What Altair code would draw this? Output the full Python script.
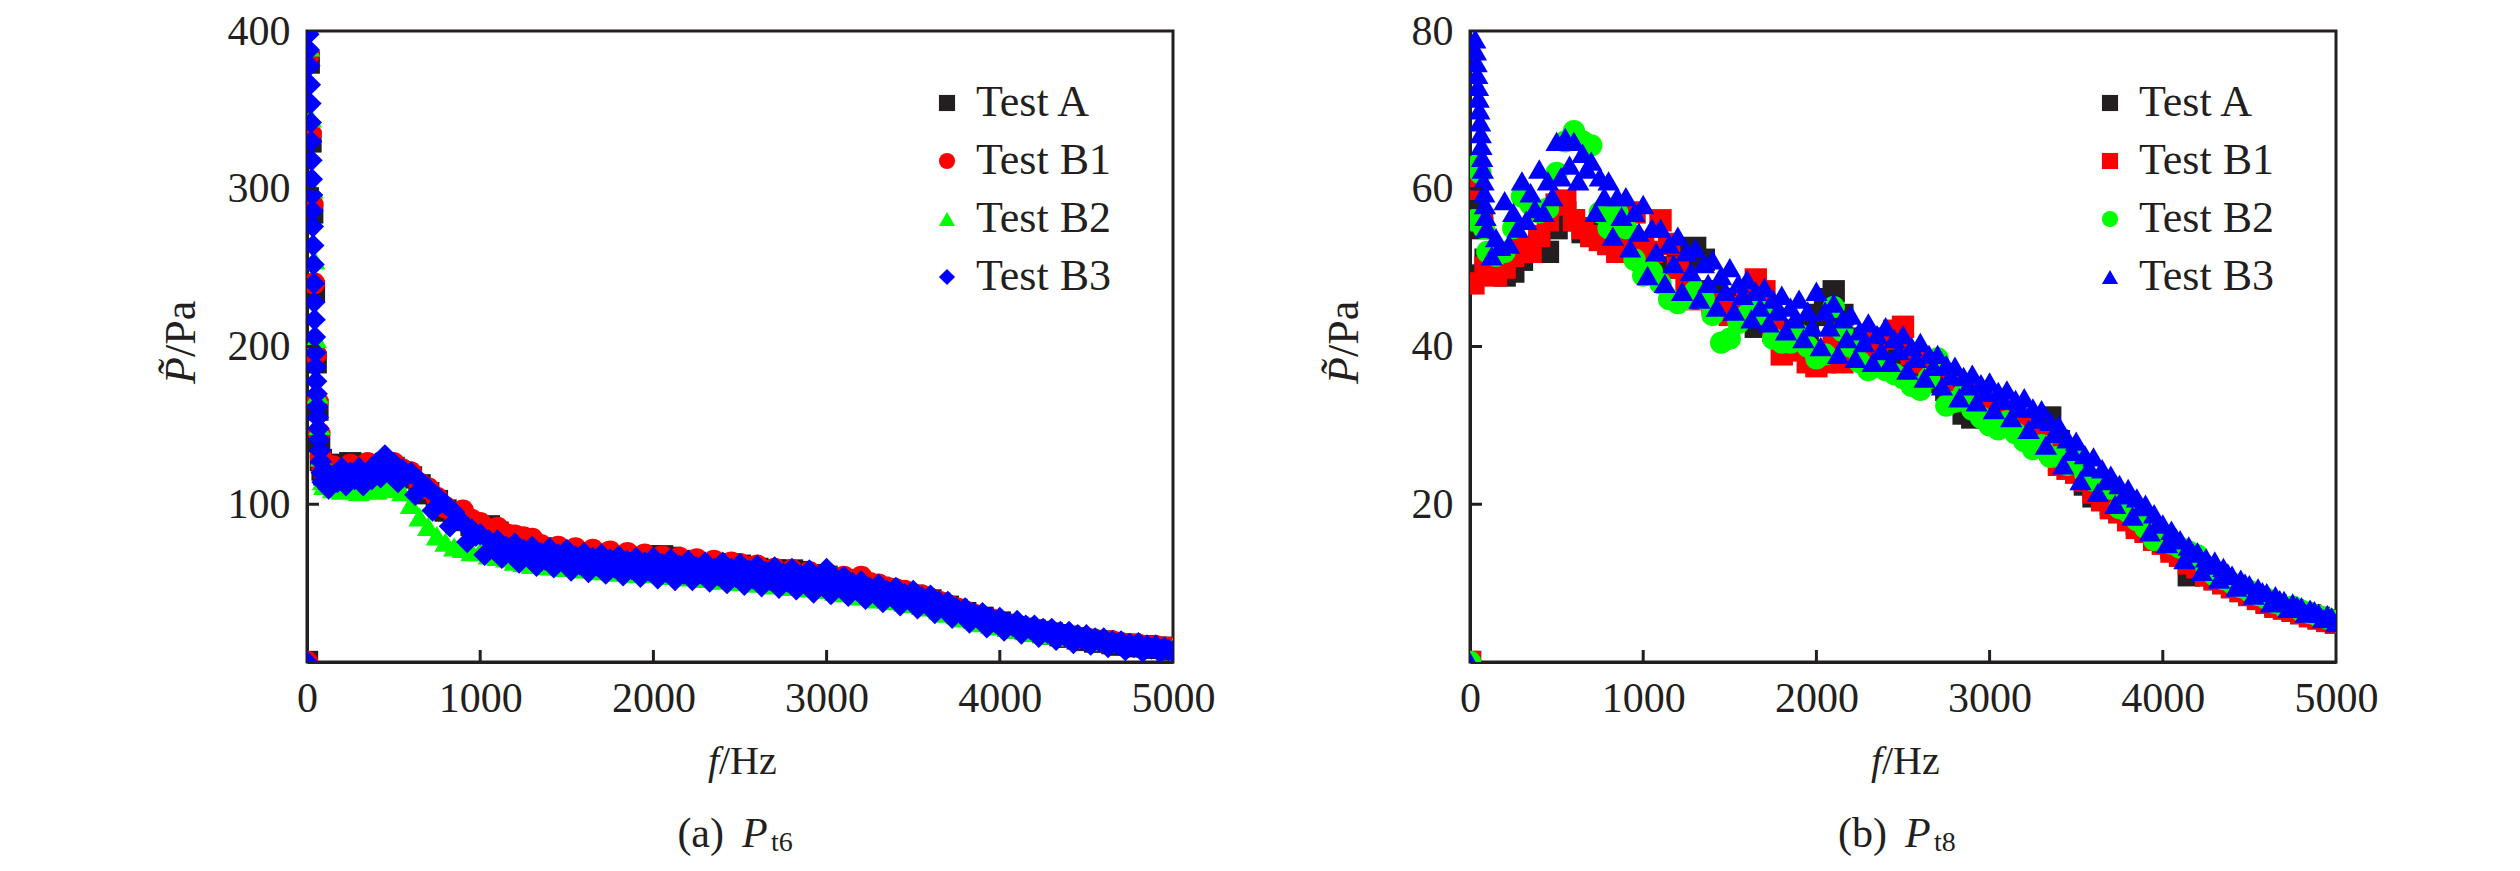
import altair as alt
import pandas as pd

# ---------------- data ----------------
SERIES = ["Test A", "Test B1", "Test B2", "Test B3"]
COLORS = ["#231f20", "#ff0000", "#00ff00", "#0000ff"]
SHAPES_LEFT = ["square", "circle", "triangle-up", "diamond"]
SHAPES_RIGHT = ["square", "square", "circle", "triangle-up"]

FREQ = list(range(100, 5001, 50))       # grid for Test A, B1, B2 (Hz)
FREQ_FINE = list(range(100, 5001, 25))  # finer grid for Test B3 (Hz)
X_TICKS = [0, 1000, 2000, 3000, 4000, 5000]
X_INNER = [1000, 2000, 3000, 4000]
Y_TICKS_LEFT = [100, 200, 300, 400]
Y_TICKS_RIGHT = [20, 40, 60, 80]

# ---- (a) Pt6 : low-frequency part ----
L_A_LOW_F = [0, 10, 20, 30, 40, 50, 60, 70, 80, 90]
L_A_LOW = [0, 380, 330, 285, 235, 190, 160, 140, 128, 122]
L_B1_LOW_F = [0, 10, 20, 30, 40, 50, 60, 70, 80, 90]
L_B1_LOW = [0, 385, 335, 290, 240, 195, 165, 145, 130, 123]
L_B2_LOW_F = [0, 12, 22, 32, 42, 52, 62, 72, 82, 92]
L_B2_LOW = [0, 390, 345, 300, 255, 205, 170, 150, 130, 115]
L_B3_LOW_F = [0, 8, 11, 14, 17, 20, 22, 24, 26, 28, 30, 32, 34, 36, 38, 40, 42, 44, 46, 48,
              50, 53, 56, 59, 62, 66, 70, 75, 80, 85, 90]
L_B3_LOW = [0, 398, 388, 378, 366, 354, 342, 330, 318, 306, 296, 286, 276, 264, 252, 240, 228, 217, 206, 196,
            187, 178, 170, 162, 155, 148, 141, 134, 127, 120, 114]

# ---- (a) Pt6 : values on FREQ grid ----
L_A = [119, 122, 125, 126, 125, 122, 118, 121, 123, 120,
       117, 112, 107, 102, 96, 91, 90, 87, 85, 86,
       82, 79, 78, 75, 73, 72, 71, 70, 70, 69,
       68, 68, 67, 67, 66, 66, 65, 66, 67, 67,
       66, 64, 63, 62, 62, 61, 61, 62, 61, 60,
       59, 58, 58, 57, 58, 57, 55, 54, 54, 52,
       51, 50, 49, 48, 47, 46, 44, 43, 42, 40,
       39, 37, 35, 33, 31, 29, 28, 26, 25, 23,
       22, 21, 20, 19, 18, 17, 16, 15, 14, 13,
       13, 12, 11, 11, 10, 10, 9, 9, 8]
L_B1 = [120, 124, 119, 125, 121, 126, 120, 124, 126, 122,
        120, 113, 110, 104, 98, 94, 96, 90, 88, 84,
        85, 81, 80, 79, 78, 74, 71, 73, 70, 72,
        69, 71, 68, 70, 67, 69, 66, 68, 65, 67,
        64, 66, 63, 65, 62, 64, 61, 63, 62, 60,
        61, 57, 59, 56, 58, 55, 57, 54, 56, 53,
        54, 52, 54, 50, 49, 47, 46, 45, 43, 42,
        40, 38, 36, 34, 32, 30, 28, 27, 25, 24,
        22, 21, 20, 19, 18, 17, 16, 15, 15, 14,
        13, 13, 12, 11, 11, 10, 10, 9, 9]
L_B2 = [112, 110, 109, 111, 108, 110, 109, 112, 110, 108,
        100, 92, 86, 80, 76, 73, 72, 70, 70, 68,
        67, 66, 64, 63, 62, 62, 61, 61, 60, 60,
        59, 59, 58, 58, 57, 57, 56, 57, 56, 57,
        55, 57, 54, 55, 53, 54, 52, 53, 51, 52,
        50, 51, 49, 50, 48, 49, 47, 48, 46, 45,
        44, 44, 42, 42, 40, 40, 39, 38, 37, 36,
        35, 33, 31, 30, 28, 27, 25, 24, 23, 22,
        21, 20, 19, 18, 17, 17, 16, 15, 15, 14,
        13, 13, 12, 12, 11, 11, 10, 10, 9]
# Test B3 on the fine grid (four readings per 100 Hz: top, bottom, upper-middle, lower-middle)
L_B3 = [122, 110, 118, 114,  123, 112, 120, 116,  123, 112, 120, 116,  126, 117, 131, 122,
        126, 114, 122, 118,  120, 106, 115, 111,  110, 96, 105, 101,  100, 86, 95, 91,
        88, 76, 84, 80,  81, 68, 77, 72,  77, 66, 73, 70,  75, 63, 71, 67,
        73, 61, 69, 65,  72, 60, 68, 64,  71, 58, 67, 62,  69, 57, 66, 61,
        68, 56, 65, 60,  67, 55, 64, 59,  66, 54, 63, 58,  66, 53, 62, 57,
        65, 52, 61, 56,  64, 52, 60, 56,  63, 51, 59, 55,  63, 50, 59, 54,
        62, 49, 58, 53,  61, 48, 57, 52,  60, 47, 56, 51,  59, 46, 55, 50,
        58, 44, 54, 49,  59, 43, 53, 48,  54, 42, 50, 46,  51, 40, 47, 44,
        49, 38, 45, 42,  47, 36, 43, 40,  45, 34, 41, 38,  42, 31, 38, 35,
        38, 28, 34, 31,  34, 25, 31, 28,  31, 22, 28, 25,  28, 20, 25, 23,
        26, 18, 23, 21,  23, 16, 21, 18.5,  21, 14, 19, 16.5,  19, 12, 17, 14.5,
        17, 11, 15, 13,  15, 9.5, 13, 11.5,  13, 7.5, 11.5, 9.5,  12, 6.5, 10.5, 8.5,
        10.5, 6, 9, 7.5,
        7]

# ---- (b) Pt8 : low-frequency part ----
R_A_LOW_F = [0, 20, 45, 70, 90]
R_A_LOW = [0, 49, 58, 55, 51]
R_B1_LOW_F = [0, 20, 45, 70, 90]
R_B1_LOW = [0, 48, 60, 56, 50]
R_B2_LOW_F = [0, 20, 40, 60, 80]
R_B2_LOW = [0, 56, 63, 62, 55]
R_B3_LOW_F = [0, 30, 34, 38, 42, 46, 50, 54, 58, 62, 66, 70, 74, 78, 82, 86, 90, 95]
R_B3_LOW = [0, 79, 77.5, 76, 74.5, 73, 71.5, 70, 68.5, 67, 65.5, 64, 62.5, 61, 59.5, 58, 56.5, 55]

# ---- (b) Pt8 : values on FREQ grid ----
R_A = [50, 49.5, 49, 49.5, 51, 52, 53, 52, 55, 57,
       56, 54.5, 55, 54, 53, 54, 53, 52, 51, 50.5,
       50, 50, 51, 51.5, 52.5, 51, 47, 46, 45.5, 45,
       44, 42.5, 43, 43.5, 42, 41.5, 41, 42, 44, 46,
       47, 44, 41, 40, 39.5, 39, 38.5, 38, 38.5, 37.5,
       37, 36.5, 35.5, 34.5, 33, 31.5, 31, 31.5, 32, 31.5,
       31, 30.5, 30.5, 30, 30.5, 31, 28, 26, 25, 22.5,
       21, 21, 20, 19, 18, 17.5, 17, 16, 15.5, 14.5,
       13.5, 11, 11.5, 11, 10.5, 10, 9.5, 9, 8.5, 8,
       7.6, 7.2, 6.8, 6.5, 6.2, 5.9, 5.6, 5.3, 5]
R_B1 = [49.5, 49, 50, 51.5, 52.5, 52, 54, 56, 58, 58.5,
        56, 55, 54, 53.5, 53, 52, 54, 57, 53, 52,
        56, 53, 50, 48, 46, 46.5, 45.5, 44.5, 44, 45,
        46, 48.5, 47, 42, 39, 39.5, 41, 38, 37.5, 38,
        40, 38, 39, 40, 41, 40, 41, 42, 42.5, 39,
        38, 37.5, 36.5, 36, 35, 34, 34.5, 33, 32.5, 32,
        31, 31, 30, 29, 28, 27, 25, 24.5, 24, 23,
        21.5, 20.5, 19.5, 19, 18, 17, 16.5, 15.5, 15, 14,
        13.5, 12.5, 12, 11, 10.5, 10, 9.5, 9, 8.5, 8,
        7.5, 7, 6.8, 6.5, 6.2, 5.8, 5.5, 5.2, 5]
R_B2 = [52, 51.5, 52, 55, 59, 58, 57, 57.5, 62, 66,
        67.3, 66, 65.5, 57, 55, 57, 55, 51, 49, 49.5,
        48, 46, 45.5, 46, 47, 46, 44, 40.5, 41, 43,
        44, 45, 44, 41, 40.5, 40.5, 41.5, 40, 38.5, 39,
        45, 42, 40, 38, 37, 37.5, 37, 36.5, 36, 35,
        34.5, 36, 38.5, 32.5, 33, 34, 32, 31, 30, 29.5,
        30.5, 29, 28, 27, 27.5, 26, 26, 25, 25.5, 24,
        23, 22.5, 22, 19.5, 19, 18, 17, 15.5, 15.5, 15,
        14.5, 14, 13.5, 12, 11, 10.5, 10, 9.5, 9, 8.5,
        8, 7.5, 7, 7, 6.5, 6.2, 5.8, 5.5, 5.2]
R_B3 = [55, 51.5, 53.8, 52.7,  58.5, 53, 57, 55,  61, 56, 59.5, 57.5,  62.5, 57, 61, 59,
        66, 61.5, 66.5, 63,  66, 61, 64.5, 62.5,  63.5, 57, 61.5, 59,  61, 54, 59, 56.5,
        59, 52.5, 57, 54.5,  58, 49, 55, 52,  55, 48, 53, 50.5,  54, 47, 52, 49.5,
        52.5, 46, 50.5, 48,  51, 45, 49, 47,  50, 44.5, 48, 46.5,  48.5, 43.5, 47, 45,
        47.5, 43, 46, 44.5,  46.5, 42, 45, 43.5,  46, 41, 44.5, 42.5,  47, 40, 44.5, 42.5,
        45.5, 39, 43.5, 41,  44, 38.5, 42, 40.5,  43, 38, 41.5, 39.5,  42.5, 38, 41, 39.5,
        41.5, 37, 40, 38.5,  40.5, 36, 39, 37.5,  39, 35, 37.7, 36.3,  37.5, 33.5, 36.2, 35,
        36.5, 33, 35.3, 34.2,  35.5, 32, 34.3, 33.2,  34.5, 31, 33.3, 32.2,  33.5, 29.5, 32.2, 30.8,
        32, 27.5, 30.5, 29,  30, 25, 28.3, 26.7,  28, 23, 26.3, 24.7,  26, 21.5, 24.5, 23,
        23.7, 20, 22.5, 21.2,  22, 18.5, 20.8, 19.7,  20, 16.5, 18.8, 17.7,  17.5, 15, 16.7, 15.8,
        15.5, 13, 14.7, 13.8,  14, 11.5, 13.2, 12.3,  12.8, 10.5, 12, 11.3,  11, 9.5, 10.5, 10,
        9.8, 8.5, 9.4, 8.9,  8.8, 7.5, 8.4, 7.9,  7.8, 6.8, 7.5, 7.1,  7, 6.2, 6.7, 6.5,
        6.2, 5.5, 6, 5.7,
        5]

# ---------------- layout / style constants ----------------
W, H = 866, 631
FONT = "Liberation Serif"
INK = "#231f20"
TICK_LEN = 12


def build_df(parts):
    rows = []
    k = 0
    for name, lowf, low, grid, vals in parts:
        for f, v in zip(lowf + grid, low + vals):
            rows.append({"f": f, "p": v, "series": name, "k": k})
            k += 1
    return pd.DataFrame(rows)


df_left = build_df([
    ("Test A", L_A_LOW_F, L_A_LOW, FREQ, L_A),
    ("Test B1", L_B1_LOW_F, L_B1_LOW, FREQ, L_B1),
    ("Test B2", L_B2_LOW_F, L_B2_LOW, FREQ, L_B2),
    ("Test B3", L_B3_LOW_F, L_B3_LOW, FREQ_FINE, L_B3),
])
df_right = build_df([
    ("Test A", R_A_LOW_F, R_A_LOW, FREQ, R_A),
    ("Test B1", R_B1_LOW_F, R_B1_LOW, FREQ, R_B1),
    ("Test B2", R_B2_LOW_F, R_B2_LOW, FREQ, R_B2),
    ("Test B3", R_B3_LOW_F, R_B3_LOW, FREQ_FINE, R_B3),
])


def text_layer(txt, x, y, size=40, style="normal", align="left", angle=0):
    return alt.Chart(pd.DataFrame({"a": [0]})).mark_text(
        text=txt, font=FONT, fontSize=size, fontStyle=style, align=align,
        baseline="alphabetic", color=INK, angle=angle
    ).encode(x=alt.value(x), y=alt.value(y))


def panel(df, ymax, yticks, shapes, letter, sub):
    xscale = alt.Scale(domain=[0, 5000], nice=False, zero=False)
    yscale = alt.Scale(domain=[0, ymax], nice=False, zero=False)
    xaxis = alt.Axis(values=X_TICKS, format="d", title=None, ticks=False, grid=False,
                     labelPadding=16, labelFlush=False, labelOverlap=False)
    yaxis = alt.Axis(values=yticks, format="d", title=None, ticks=False, grid=False,
                     labelPadding=17, labelFlush=False, labelOverlap=False)
    leg = alt.Legend(
        orient="none", legendX=618, legendY=50, title=None, padding=0,
        labelFont=FONT, labelFontSize=44, labelColor=INK, labelOffset=7,
        symbolSize=260, symbolStrokeWidth=0, rowPadding=14,
        symbolOpacity=1,
    )
    pts = alt.Chart(df).mark_point(
        filled=True, size=500, opacity=1, clip=True, strokeWidth=0
    ).encode(
        x=alt.X("f:Q", scale=xscale, axis=xaxis),
        y=alt.Y("p:Q", scale=yscale, axis=yaxis),
        color=alt.Color("series:N", scale=alt.Scale(domain=SERIES, range=COLORS), legend=leg),
        shape=alt.Shape("series:N", scale=alt.Scale(domain=SERIES, range=shapes), legend=leg),
        order=alt.Order("k:Q"),
    )
    xt = alt.Chart(pd.DataFrame({"f": X_INNER})).mark_rule(color=INK, strokeWidth=3).encode(
        x=alt.X("f:Q", scale=xscale, axis=xaxis),
        y=alt.value(H - TICK_LEN), y2=alt.value(H),
    )
    yt = alt.Chart(pd.DataFrame({"p": yticks[:-1]})).mark_rule(color=INK, strokeWidth=3).encode(
        y=alt.Y("p:Q", scale=yscale, axis=yaxis),
        x=alt.value(0), x2=alt.value(TICK_LEN),
    )
    texts = [
        text_layer("f", 412, 743, style="italic", align="right"),
        text_layer("/Hz", 412, 743),
        text_layer("P\u0303", -112, 326, size=44, style="italic", align="right", angle=270),
        text_layer("/Pa", -112, 326, size=44, align="left", angle=270),
        text_layer(letter, 417, 816, size=42, align="right"),
        text_layer("P", 435, 816, size=42, style="italic"),
        text_layer(sub, 464, 820, size=28),
    ]
    return alt.layer(pts, xt, yt, *texts).properties(width=W, height=H)


left = panel(df_left, 400, Y_TICKS_LEFT, SHAPES_LEFT, "(a)", "t6")
right = panel(df_right, 80, Y_TICKS_RIGHT, SHAPES_RIGHT, "(b)", "t8")

chart = alt.hconcat(left, right, spacing=104).resolve_scale(
    x="independent", y="independent", color="independent", shape="independent"
).resolve_legend(color="independent", shape="independent").properties(
    padding={"left": 150, "top": 0, "right": 5, "bottom": 5}, background="white"
).configure_view(
    stroke=INK, strokeWidth=3
).configure_axis(
    labelFont=FONT, labelFontSize=42, labelColor=INK, domainColor=INK, domainWidth=3,
)

chart.save("out.html", embed_options={"renderer": "svg", "actions": False})
